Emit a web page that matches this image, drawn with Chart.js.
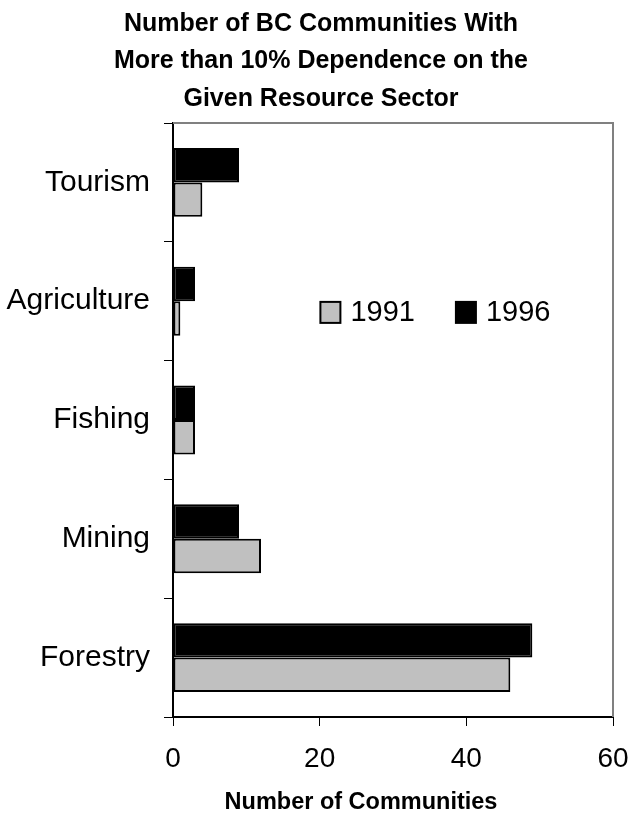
<!DOCTYPE html>
<html>
<head>
<meta charset="utf-8">
<script src="https://cdn.jsdelivr.net/npm/chart.js@4/dist/chart.umd.min.js"></script>
<style>
    html, body { margin: 0; padding: 0; background: #fff; }
    #wrap { width: 629px; height: 817px; }
</style>
</head>
<body>
<div id="wrap"><canvas id="sectorChart" width="629" height="817"></canvas></div>
<script>
var sectors = ['Tourism', 'Agriculture', 'Fishing', 'Mining', 'Forestry'];
var values1996 = [9, 3, 3, 9, 49];
var values1991 = [4, 1, 3, 12, 46];
var xTicks = [0, 20, 40, 60];
var titleLines = ['Number of BC Communities With', 'More than 10% Dependence on the', 'Given Resource Sector'];

var FONT = '"Liberation Sans", Arial, sans-serif';

// gray frame on top/right of the plot area
var frame = {
    id: 'frame',
    beforeDatasetsDraw: function (chart) {
        var a = chart.chartArea, c = chart.ctx;
        c.save();
        c.strokeStyle = '#808080';
        c.lineWidth = 2;
        c.beginPath();
        c.moveTo(a.left, a.top);
        c.lineTo(a.right, a.top);
        c.lineTo(a.right, a.bottom);
        c.stroke();
        c.restore();
    }
};

// legend drawn inside the plot, 1991 first
var insideLegend = {
    id: 'insideLegend',
    afterDraw: function (chart) {
        var a = chart.chartArea, c = chart.ctx;
        var x = a.left + (a.right - a.left) * 0.335;
        var y = a.top + (a.bottom - a.top) * 0.318;
        var items = chart.data.datasets.slice().reverse();
        c.save();
        c.font = '29px ' + FONT;
        c.textBaseline = 'middle';
        items.forEach(function (ds) {
            c.fillStyle = ds.backgroundColor;
            c.fillRect(x, y - 10, 20, 21);
            c.strokeStyle = '#000';
            c.lineWidth = 2;
            c.strokeRect(x, y - 10, 20, 21);
            c.fillStyle = '#000';
            c.fillText(ds.label, x + 30, y + 1);
            x += 30 + c.measureText(ds.label).width + 41;
        });
        c.restore();
    }
};

// titles: chart title (space kept by layout padding) and x axis title
var texts = {
    id: 'texts',
    afterDraw: function (chart) {
        var a = chart.chartArea, c = chart.ctx;
        c.save();
        c.fillStyle = '#000';
        c.textAlign = 'center';
        c.textBaseline = 'middle';
        c.font = 'bold 25px ' + FONT;
        titleLines.forEach(function (t, i) {
            c.fillText(t, 321, 24 + i * 37.5);
        });
        c.font = 'bold 23.5px ' + FONT;
        c.fillText('Number of Communities', (a.left + a.right) / 2 - 32, a.bottom + 86);
        c.restore();
    }
};

var ctx = document.getElementById('sectorChart').getContext('2d');
new Chart(ctx, {
    type: 'bar',
    data: {
        labels: sectors,
        datasets: [{
            label: '1996',
            data: values1996,
            backgroundColor: '#000000',
            borderColor: '#000000',
            borderWidth: 2,
            borderSkipped: false
        }, {
            label: '1991',
            data: values1991,
            backgroundColor: '#c0c0c0',
            borderColor: '#000000',
            borderWidth: 2,
            borderSkipped: false
        }]
    },
    options: {
        indexAxis: 'y',
        responsive: false,
        animation: false,
        devicePixelRatio: 1,
        layout: { padding: { left: 0, right: 0, top: 123, bottom: 0 } },
        datasets: { bar: { categoryPercentage: 0.58, barPercentage: 1.0 } },
        plugins: {
            legend: { display: false },
            tooltip: { enabled: false },
            title: { display: false }
        },
        scales: {
            x: {
                min: 0,
                max: 60,
                afterBuildTicks: function (s) {
                    s.ticks = xTicks.map(function (v) { return { value: v }; });
                },
                afterFit: function (s) {
                    s.height = 100;
                    s.paddingRight = 16;
                },
                grid: {
                    drawOnChartArea: false,
                    drawTicks: true,
                    tickLength: 9,
                    color: '#000',
                    lineWidth: 1
                },
                border: { color: '#000', width: 2 },
                ticks: {
                    color: '#000',
                    padding: 16,
                    font: { family: FONT, size: 28 }
                }
            },
            y: {
                afterFit: function (s) { s.width = 173; },
                grid: {
                    offset: true,
                    drawOnChartArea: false,
                    drawTicks: true,
                    tickLength: 9,
                    color: '#000',
                    lineWidth: 1
                },
                border: { color: '#000', width: 2 },
                ticks: {
                    color: '#000',
                    padding: 14,
                    font: { family: FONT, size: 30 }
                }
            }
        }
    },
    plugins: [frame, insideLegend, texts]
});
</script>
</body>
</html>
